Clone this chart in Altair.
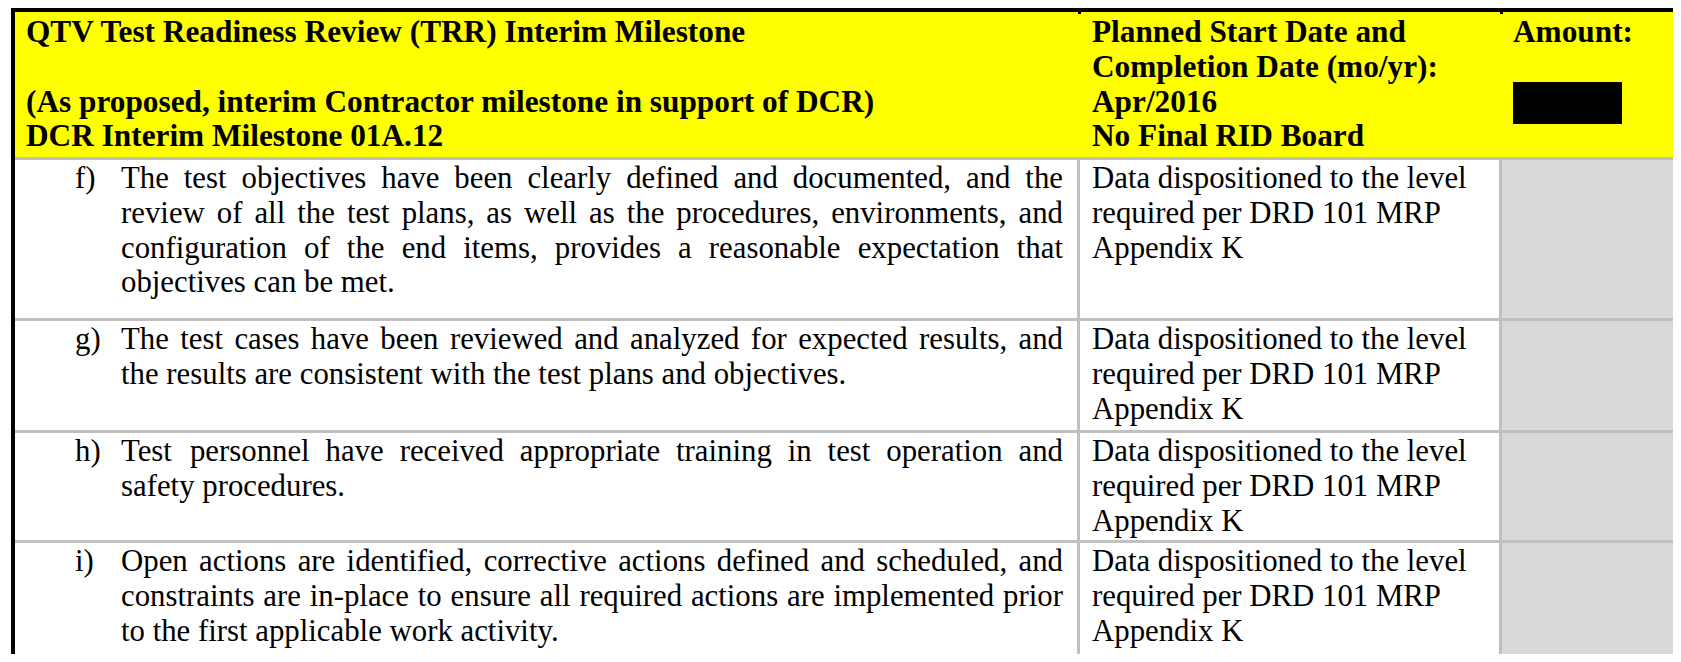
import altair as alt
import pandas as pd

# ---------------- content ----------------
header_left = [
    "QTV Test Readiness Review (TRR) Interim Milestone",
    "",
    "(As proposed, interim Contractor milestone in support of DCR)",
    "DCR Interim Milestone 01A.12",
]
header_mid = [
    "Planned Start Date and",
    "Completion Date (mo/yr):",
    "Apr/2016",
    "No Final RID Board",
]
header_right = ["Amount:"]

item_labels = ["f)", "g)", "h)", "i)"]
item_lines = [
    [
        "The test objectives have been clearly defined and documented, and the",
        "review of all the test plans, as well as the procedures, environments, and",
        "configuration of the end items, provides a reasonable expectation that",
        "objectives can be met.",
    ],
    [
        "The test cases have been reviewed and analyzed for expected results, and",
        "the results are consistent with the test plans and objectives.",
    ],
    [
        "Test personnel have received appropriate training in test operation and",
        "safety procedures.",
    ],
    [
        "Open actions are identified, corrective actions defined and scheduled, and",
        "constraints are in-place to ensure all required actions are implemented prior",
        "to the first applicable work activity.",
    ],
]
status_lines = [
    ["Data dispositioned to the level", "required per DRD 101 MRP", "Appendix K"],
    ["Data dispositioned to the level", "required per DRD 101 MRP", "Appendix K"],
    ["Data dispositioned to the level", "required per DRD 101 MRP", "Appendix K"],
    ["Data dispositioned to the level", "required per DRD 101 MRP", "Appendix K"],
]

# ---------------- layout (page pixels) ----------------
W, H = 1665, 646
X0, Y0 = 8, 8
PAGE_R, PAGE_B = 1681, 662
BODY_FONT = 30.8
HEAD_FONT = 31.3
LINE_STEP = 34.8
GRID = 3
COL1, COL2 = 1077, 1499          # vertical divider left edges
HLINES = [157, 318, 430, 540]     # horizontal grey line top edges
LEFT_BORDER = (11, 15)
TOP_BORDER = (8, 12)
LABEL_X, TEXT_X, TEXT_R = 75, 121, 1063
STATUS_X, AMOUNT_X = 1092, 1513
HEAD_X = 26
HEAD_BASE = 42
ROW_BASE_OFF = 28

YELLOW, GREYFILL, GREYLINE = "#ffff00", "#d9d9d9", "#c0c0c0"

# Times-metric advance widths (per 1000 em) for justification
TW = {" ": 250, "(": 333, ")": 333, ",": 250, "-": 333, ".": 250, "/": 278, ":": 278}
TW.update({d: 500 for d in "0123456789"})
TW.update(dict(zip("ABCDEFGHIJKLMNOPQRSTUVWXYZ",
                   [722, 667, 667, 722, 611, 556, 722, 722, 333, 389, 722, 611, 889,
                    722, 722, 556, 722, 667, 556, 611, 722, 722, 944, 722, 722, 611])))
TW.update(dict(zip("abcdefghijklmnopqrstuvwxyz",
                   [444, 500, 444, 500, 444, 333, 500, 500, 278, 278, 500, 278, 778,
                    500, 500, 500, 500, 333, 389, 278, 500, 500, 722, 500, 500, 444])))


def width(s, size):
    return sum(TW.get(c, 500) for c in s) / 1000.0 * size


# ---------------- rectangles ----------------
rects = []
def rect(x, x2, y, y2, c):
    rects.append({"x": x, "x2": x2, "y": y, "y2": y2, "c": c})

rect(LEFT_BORDER[1], PAGE_R, TOP_BORDER[1], HLINES[0], YELLOW)
rect(COL2 + GRID, PAGE_R, HLINES[0] + GRID, PAGE_B, GREYFILL)
for hy in HLINES:
    rect(LEFT_BORDER[1], PAGE_R, hy, hy + GRID, GREYLINE)
for vx in (COL1, COL2):
    rect(vx, vx + GRID, HLINES[0], PAGE_B, GREYLINE)
    rect(vx + 1, vx + GRID + 1, TOP_BORDER[1], TOP_BORDER[1] + 2, "#000000")
rect(LEFT_BORDER[0], LEFT_BORDER[1], TOP_BORDER[0], PAGE_B, "#000000")
rect(LEFT_BORDER[0], PAGE_R, TOP_BORDER[0], TOP_BORDER[1], "#000000")
rect(AMOUNT_X, AMOUNT_X + 109, 82, 124, "#000000")
rect_df = pd.DataFrame(rects)

# ---------------- texts ----------------
head = []
for i, t in enumerate(header_left):
    if t:
        head.append({"x": HEAD_X, "y": HEAD_BASE + i * LINE_STEP, "t": t})
for i, t in enumerate(header_mid):
    head.append({"x": STATUS_X, "y": HEAD_BASE + i * LINE_STEP, "t": t})
for i, t in enumerate(header_right):
    head.append({"x": AMOUNT_X, "y": HEAD_BASE + i * LINE_STEP, "t": t})
head_df = pd.DataFrame(head)

body = []
row_tops = [h + GRID for h in HLINES]
for r, lab in enumerate(item_labels):
    base = row_tops[r] + ROW_BASE_OFF
    body.append({"x": LABEL_X, "y": base, "t": lab})
    lines = item_lines[r]
    for k, line in enumerate(lines):
        y = base + k * LINE_STEP
        if k < len(lines) - 1:
            words = line.split(" ")
            total = sum(width(w, BODY_FONT) for w in words)
            gap = (TEXT_R - TEXT_X - total) / (len(words) - 1)
            x = TEXT_X
            for w in words:
                body.append({"x": x, "y": y, "t": w})
                x += width(w, BODY_FONT) + gap
        else:
            body.append({"x": TEXT_X, "y": y, "t": line})
    for k, line in enumerate(status_lines[r]):
        body.append({"x": STATUS_X, "y": base + k * LINE_STEP, "t": line})
body_df = pd.DataFrame(body)

xs = alt.Scale(domain=[X0, X0 + W], nice=False, zero=False)
ys = alt.Scale(domain=[Y0, Y0 + H], nice=False, zero=False, reverse=True)

rect_layer = alt.Chart(rect_df).mark_rect(clip=True).encode(
    x=alt.X("x:Q", scale=xs, axis=None),
    x2="x2:Q",
    y=alt.Y("y:Q", scale=ys, axis=None),
    y2="y2:Q",
    color=alt.Color("c:N", scale=None),
)

head_layer = alt.Chart(head_df).mark_text(
    align="left", baseline="alphabetic", font="Liberation Serif",
    fontSize=HEAD_FONT, fontWeight="bold", color="#000000",
).encode(
    x=alt.X("x:Q", scale=xs, axis=None),
    y=alt.Y("y:Q", scale=ys, axis=None),
    text="t:N",
)

body_layer = alt.Chart(body_df).mark_text(
    align="left", baseline="alphabetic", font="Liberation Serif",
    fontSize=BODY_FONT, color="#000000",
).encode(
    x=alt.X("x:Q", scale=xs, axis=None),
    y=alt.Y("y:Q", scale=ys, axis=None),
    text="t:N",
)

chart = alt.layer(rect_layer, head_layer, body_layer).properties(
    width=W, height=H, padding=0,
    autosize=alt.AutoSizeParams(type="none"),
    background="#ffffff",
).configure_view(stroke=None)

chart.save("out.html", embed_options={"renderer": "svg", "actions": False})
